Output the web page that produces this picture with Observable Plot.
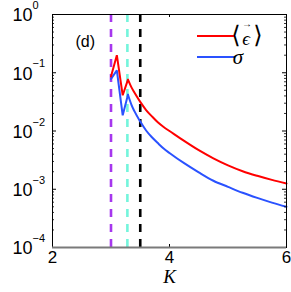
<!DOCTYPE html>
<html>
<head>
<meta charset="utf-8">
<script src="https://cdn.jsdelivr.net/npm/d3@7"></script>
<script src="https://cdn.jsdelivr.net/npm/@observablehq/plot@0.6"></script>
<style>
  html, body { margin: 0; padding: 0; background: #fff; }
  #chart { width: 291px; height: 292px; }
</style>
</head>
<body>
<div id="chart"></div>
<script>
// K values
const K = [3.0, 3.1, 3.2, 3.29, 3.35, 3.4, 3.5, 3.6, 3.7, 3.8, 3.9, 4.0, 4.25, 4.5, 4.75, 5.0, 5.25, 5.5, 5.75, 6.0];
// <epsilon> (red)
const epsMean = [0.086, 0.20, 0.041, 0.076, 0.056, 0.0457, 0.0316, 0.0229, 0.0178, 0.0141, 0.0117, 0.0100, 0.00676, 0.00468, 0.00339, 0.00257, 0.00204, 0.0017, 0.00145, 0.00126];
// sigma (blue)
const sigma = [0.078, 0.11, 0.0186, 0.042, 0.0282, 0.0219, 0.0145, 0.0102, 0.0078, 0.0062, 0.0050, 0.0042, 0.0028, 0.00195, 0.0014, 0.0011, 0.00087, 0.00071, 0.00059, 0.0005];
// vertical dashed markers
const markers = [3.0, 3.28, 3.5];
const markerColors = ["#a637ee", "#74f5dc", "#000000"];
// ticks
const xTicks = [2, 4, 6];
const yTicks = [1e-4, 1e-3, 1e-2, 1e-1, 1];
const yExponents = ["\u22124", "\u22123", "\u22122", "\u22121", "0"];
const panelLabel = "(d)";
const xLabel = "K";
const seriesColors = ["#ff0000", "#2a52ff"];
const peakEnd = 3.29; // last sharp corner of the curves

const yMinor = [];
for (let i = 0; i < yTicks.length - 1; i++) for (let m = 2; m <= 9; m++) yMinor.push(yTicks[i] * m);

const redData = K.map((k, i) => ({K: k, v: epsMean[i]}));
const blueData = K.map((k, i) => ({K: k, v: sigma[i]}));
const markerData = markers.map((k, i) => ({K: k, c: markerColors[i]}));
const yLab = yTicks.map((t, i) => ({t, e: yExponents[i]}));

const W = 291, H = 292, mL = 52, mR = 5, mT = 14, mB = 45;
const pw = W - mL - mR, ph = H - mT - mB;
const sans = "'Liberation Sans', Arial, Helvetica, sans-serif";
const serif = "'Liberation Serif', 'DejaVu Serif', 'Times New Roman', serif";

function seriesMarks(data, color) {
  return [
    Plot.line(data.filter(d => d.K <= peakEnd), {x: "K", y: "v", stroke: color, strokeWidth: 2, strokeLinejoin: "miter"}),
    Plot.line(data.filter(d => d.K >= peakEnd), {x: "K", y: "v", stroke: color, strokeWidth: 2, curve: "monotone-x"})
  ];
}

const chart = Plot.plot({
  width: W, height: H,
  marginLeft: mL, marginRight: mR, marginTop: mT, marginBottom: mB,
  style: {fontFamily: sans, background: "#fff", overflow: "visible"},
  x: {domain: [2, 6], axis: null},
  y: {type: "log", domain: [1e-4, 1], axis: null},
  marks: [
    Plot.ruleX(markerData, {x: "K", stroke: "c", strokeWidth: 2.6, strokeDasharray: "8,7"}),
    ...seriesMarks(blueData, seriesColors[1]),
    ...seriesMarks(redData, seriesColors[0]),
    // inward ticks
    Plot.ruleY(yTicks, {stroke: "black", insetRight: pw - 4}),
    Plot.ruleY(yTicks, {stroke: "black", insetLeft: pw - 4}),
    Plot.ruleY(yMinor, {stroke: "black", strokeWidth: 0.8, insetRight: pw - 2}),
    Plot.ruleY(yMinor, {stroke: "black", strokeWidth: 0.8, insetLeft: pw - 2}),
    Plot.ruleX(xTicks, {stroke: "black", insetTop: ph - 3}),
    Plot.ruleX(xTicks, {stroke: "black", insetBottom: ph - 3}),
    Plot.frame({stroke: "black", strokeWidth: 1}),
    Plot.ruleY([yTicks[0]], {stroke: "#7a7a7a", strokeWidth: 2}),
    // y tick labels 10^n
    Plot.text(yLab, {frameAnchor: "left", y: "t", text: () => "10", textAnchor: "start", dx: -40, dy: 1, fontSize: 18, fill: "black"}),
    Plot.text(yLab, {frameAnchor: "left", y: "t", text: "e", textAnchor: "start", dx: -20, dy: -9, fontSize: 11, fill: "black"}),
    // x tick labels
    Plot.text(xTicks, {frameAnchor: "bottom", x: d => d, text: d => String(d), dy: 15, fontSize: 17, fill: "black"}),
    Plot.text([xLabel], {frameAnchor: "bottom", text: d => d, dy: 35, fontSize: 19, fontStyle: "italic", fontFamily: serif, fill: "black"}),
    Plot.text([panelLabel], {frameAnchor: "top-left", text: d => d, dx: 23, dy: 21, fontSize: 16, fill: "black"})
  ]
});

// legend (top-right, inside frame)
const svg = d3.select(chart);
const lg = svg.append("g").attr("font-family", serif).attr("fill", "black");
lg.append("line").attr("x1", 197).attr("x2", 235).attr("y1", 36).attr("y2", 36)
  .attr("stroke", seriesColors[0]).attr("stroke-width", 2);
lg.append("line").attr("x1", 197).attr("x2", 235).attr("y1", 57).attr("y2", 57)
  .attr("stroke", seriesColors[1]).attr("stroke-width", 2);
// <eps-vector>
lg.append("text").attr("x", 236).attr("y", 35).attr("dominant-baseline", "central").attr("font-size", 24).text("\u27E8");
lg.append("text").attr("x", 246).attr("y", 38.5).attr("dominant-baseline", "central").attr("font-size", 19).attr("font-style", "italic").text("\u03F5");
lg.append("text").attr("x", 247).attr("y", 23).attr("dominant-baseline", "central").attr("font-size", 10).text("\u2192");
lg.append("text").attr("x", 258).attr("y", 35).attr("dominant-baseline", "central").attr("font-size", 24).text("\u27E9");
// sigma
lg.append("text").attr("x", 238).attr("y", 57).attr("dominant-baseline", "central").attr("font-size", 21).attr("font-style", "italic").text("\u03C3");

document.getElementById("chart").appendChild(chart);
</script>
</body>
</html>
